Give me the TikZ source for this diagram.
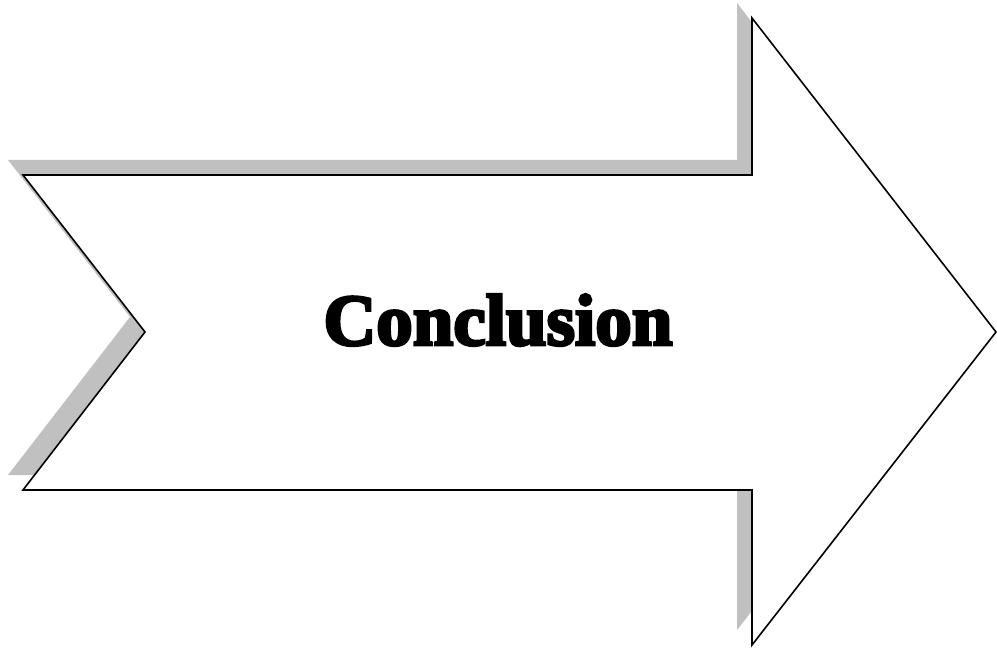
\documentclass[tikz,border=0pt]{standalone}
\usepackage{fontspec}
\newfontfamily\fatface[UprightFont=*-Bold,UprightFeatures={FakeBold=4}]{Liberation Serif}
\definecolor{shadowgray}{RGB}{192,192,192}
\begin{document}
\begin{tikzpicture}[x=1pt,y=-1pt,
  arrowshape/.style={draw=black,line width=1.6pt,fill=white,line join=miter},
  shadowshape/.style={fill=shadowgray,draw=none},
  title/.style={font=\fatface\fontsize{73}{82}\selectfont,inner sep=0pt,anchor=base}]
\useasboundingbox (0,0) rectangle (997,650);
\begin{scope}[shift={(-15,-15)}]
\fill[shadowshape] (23,175) -- (752,175) -- (752,18) -- (996,332) -- (752,645) -- (752,490) -- (23,490) -- (145,332) -- cycle;
\end{scope}
\draw[arrowshape] (23,175) -- (752,175) -- (752,18) -- (996,332) -- (752,645) -- (752,490) -- (23,490) -- (145,332) -- cycle;
\node[title] (t) at (498,345) {Conclusion};
\end{tikzpicture}
\end{document}
